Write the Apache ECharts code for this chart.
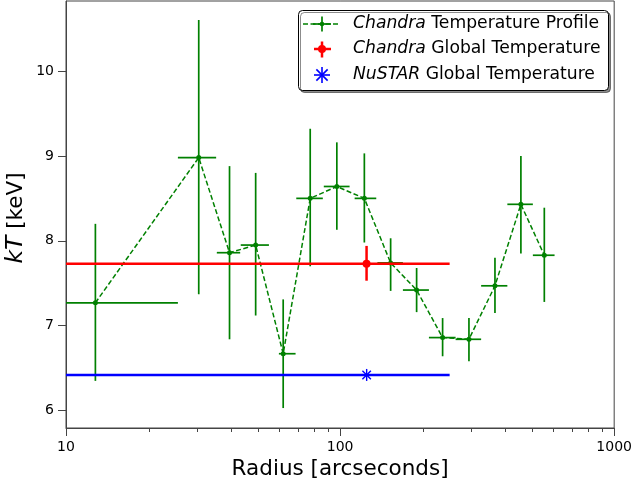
<!DOCTYPE html>
<html>
<head>
<meta charset="utf-8">
<script src="https://cdn.jsdelivr.net/npm/echarts@6/dist/echarts.min.js"></script>
<style>
  html, body { margin: 0; padding: 0; background: #fff; }
  #chart { width: 635px; height: 487px; }
</style>
</head>
<body>
<div id="chart"></div>
<script>
// ---- Data ----
const radius     = [12.8, 30.5, 39.5, 49.2, 62.0, 77.8, 97.3, 122.6, 152.9, 190.2, 236.6, 295.2, 367.3, 456.7, 556];
const radiusLow  = [10,   25.6, 35.5, 43.4, 59.8, 69.2, 87.2, 113,   136.8, 169.5, 210.9, 263.9, 327,   407.6, 505];
const radiusHigh = [25.6, 35.3, 43.2, 55.0, 68.8, 86.5, 108.3, 135.5, 169.5, 210.9, 263.9, 327,  407.6, 505,   606];
const kT         = [7.27, 8.98, 7.86, 7.95, 6.67, 8.50, 8.64, 8.50, 7.74, 7.42, 6.86, 6.84, 7.47, 8.43, 7.83];
const kTLow      = [6.35, 7.37, 6.84, 7.12, 6.03, 7.70, 8.13, 7.98, 7.41, 7.16, 6.64, 6.58, 7.15, 7.85, 7.28];
const kTHigh     = [8.20, 10.60, 8.88, 8.80, 7.31, 9.32, 9.16, 9.03, 8.03, 7.68, 7.09, 7.09, 7.80, 9.00, 8.39];

const chandraGlobal = { r: 124.9, rLow: 10, rHigh: 251, kT: 7.73, kTLow: 7.53, kTHigh: 7.94 };
const nustarGlobal  = { r: 125,   rLow: 10, rHigh: 251, kT: 6.42 };

const xMin = 10, xMax = 1000;
const yMin = 5.795, yMax = 10.825;
const yTicks = [6, 7, 8, 9, 10];
const xMinorTicks = [20, 30, 40, 50, 60, 70, 80, 90, 200, 300, 400, 500, 600, 700, 800, 900];

const GREEN = '#008000', RED = '#ff0000', BLUE = '#0000ff';
const FONT = 'DejaVu Sans';

const profileData = radius.map((r, i) => [r, radiusLow[i], radiusHigh[i], kT[i], kTLow[i], kTHigh[i]]);
const chandraData = [[chandraGlobal.r, chandraGlobal.rLow, chandraGlobal.rHigh, chandraGlobal.kT, chandraGlobal.kTLow, chandraGlobal.kTHigh]];
const nustarData  = [[nustarGlobal.r, nustarGlobal.rLow, nustarGlobal.rHigh, nustarGlobal.kT]];

function errorBars(color, width) {
  return function (params, api) {
    const x = api.value(0), xl = api.value(1), xh = api.value(2);
    const y = api.value(3), yl = api.value(4), yh = api.value(5);
    const c = api.coord([x, y]);
    const pl = api.coord([xl, y]), ph = api.coord([xh, y]);
    const pt = api.coord([x, yh]), pb = api.coord([x, yl]);
    return {
      type: 'group',
      children: [
        { type: 'line', shape: { x1: pl[0], y1: c[1], x2: ph[0], y2: c[1] }, style: { stroke: color, lineWidth: width } },
        { type: 'line', shape: { x1: c[0], y1: pt[1], x2: c[0], y2: pb[1] }, style: { stroke: color, lineWidth: width } }
      ]
    };
  };
}

function asteriskLines(cx, cy, size, color, width) {
  const h = size / 2, d = h * Math.SQRT1_2;
  return [
    { type: 'line', shape: { x1: cx, y1: cy - h, x2: cx, y2: cy + h }, style: { stroke: color, lineWidth: width } },
    { type: 'line', shape: { x1: cx - h, y1: cy, x2: cx + h, y2: cy }, style: { stroke: color, lineWidth: width } },
    { type: 'line', shape: { x1: cx - d, y1: cy - d, x2: cx + d, y2: cy + d }, style: { stroke: color, lineWidth: width } },
    { type: 'line', shape: { x1: cx - d, y1: cy + d, x2: cx + d, y2: cy - d }, style: { stroke: color, lineWidth: width } }
  ];
}

const chart = echarts.init(document.getElementById('chart'));

// Legend drawn with graphics
const LX = 322;
const legendGraphics = [
  { type: 'rect', shape: { x: 298.5, y: 10.5, width: 310, height: 80, r: 4 },
    style: { fill: '#fff', stroke: '#000', lineWidth: 1, shadowColor: 'rgba(0,0,0,0.45)', shadowOffsetX: 2, shadowOffsetY: 2, shadowBlur: 0 }, z: 100 },
  // row 1: profile
  { type: 'line', shape: { x1: 303, y1: 24, x2: 339, y2: 24 }, style: { stroke: GREEN, lineWidth: 1.5, lineDash: [5, 2.5] }, z: 101 },
  { type: 'line', shape: { x1: 313, y1: 24, x2: 331, y2: 24 }, style: { stroke: GREEN, lineWidth: 1.7 }, z: 101 },
  { type: 'line', shape: { x1: LX, y1: 16.5, x2: LX, y2: 31.5 }, style: { stroke: GREEN, lineWidth: 1.7 }, z: 101 },
  { type: 'circle', shape: { cx: LX, cy: 24, r: 2.3 }, style: { fill: GREEN }, z: 101 },
  { type: 'text', x: 353, y: 24, style: { text: '{i|Chandra} Temperature Profile', fontSize: 17.2, fontFamily: FONT, fill: '#000', verticalAlign: 'middle',
      rich: { i: { fontStyle: 'italic', fontSize: 17.2, fontFamily: FONT } } }, z: 101 },
  // row 2: chandra global
  { type: 'line', shape: { x1: 314, y1: 49, x2: 331, y2: 49 }, style: { stroke: RED, lineWidth: 2.5 }, z: 101 },
  { type: 'line', shape: { x1: LX, y1: 41.5, x2: LX, y2: 57.5 }, style: { stroke: RED, lineWidth: 2.5 }, z: 101 },
  { type: 'circle', shape: { cx: LX, cy: 49, r: 4 }, style: { fill: RED }, z: 101 },
  { type: 'text', x: 353, y: 49, style: { text: '{i|Chandra} Global Temperature', fontSize: 17.2, fontFamily: FONT, fill: '#000', verticalAlign: 'middle',
      rich: { i: { fontStyle: 'italic', fontSize: 17.2, fontFamily: FONT } } }, z: 101 },
  // row 3: nustar
  ...asteriskLines(LX, 75, 16, BLUE, 1.6).map(e => Object.assign(e, { z: 101 })),
  { type: 'text', x: 353, y: 75, style: { text: '{i|NuSTAR} Global Temperature', fontSize: 17.2, fontFamily: FONT, fill: '#000', verticalAlign: 'middle',
      rich: { i: { fontStyle: 'italic', fontSize: 17.2, fontFamily: FONT } } }, z: 101 },
  // y axis title
  { type: 'text', x: 16, y: 218, rotation: Math.PI / 2,
    style: { text: '{i|kT} [keV]', fontSize: 21.5, fontFamily: FONT, fill: '#000', align: 'center', verticalAlign: 'middle',
      rich: { i: { fontStyle: 'italic', fontSize: 23.5, fontFamily: FONT } } }, z: 101 }
];

const option = {
  animation: false,
  backgroundColor: '#fff',
  grid: { left: 66, right: 20, top: 1, bottom: 59, show: true, borderColor: '#444', borderWidth: 1, backgroundColor: 'transparent' },
  xAxis: {
    type: 'log', logBase: 10, min: xMin, max: xMax,
    name: 'Radius [arcseconds]', nameLocation: 'middle', nameGap: 28,
    nameTextStyle: { fontFamily: FONT, fontSize: 21.5, color: '#000' },
    axisLine: { show: true, lineStyle: { color: '#444', width: 1 } },
    axisTick: { show: true, inside: false, length: 8, lineStyle: { color: '#444', width: 1 } },
    axisLabel: { fontFamily: FONT, fontSize: 14, color: '#000', margin: 12, formatter: v => String(Math.round(v)) },
    splitLine: { show: false },
    minorTick: { show: false }
  },
  yAxis: {
    type: 'value', min: yMin, max: yMax,
    axisLine: { show: true, lineStyle: { color: '#444', width: 1 } },
    axisTick: { show: true, inside: false, length: 8, customValues: yTicks, lineStyle: { color: '#444', width: 1 } },
    axisLabel: { fontFamily: FONT, fontSize: 14, color: '#000', margin: 12, customValues: yTicks },
    splitLine: { show: false }
  },
  graphic: legendGraphics,
  series: [
    {
      name: 'Chandra Temperature Profile (bars)', type: 'custom', clip: true,
      renderItem: errorBars(GREEN, 1.7),
      data: profileData, encode: { x: [0, 1, 2], y: [3, 4, 5] }, z: 2
    },
    {
      name: 'Chandra Temperature Profile', type: 'line',
      data: radius.map((r, i) => [r, kT[i]]),
      lineStyle: { color: GREEN, width: 1.5, type: [5, 2.5] },
      itemStyle: { color: GREEN },
      symbol: 'circle', symbolSize: 5, showSymbol: true, z: 3
    },
    {
      name: 'Chandra Global Temperature', type: 'custom', clip: true,
      renderItem: function (params, api) {
        const g = errorBars(RED, 2.5)(params, api);
        const c = api.coord([api.value(0), api.value(3)]);
        g.children.push({ type: 'circle', shape: { cx: c[0], cy: c[1], r: 4 }, style: { fill: RED } });
        return g;
      },
      data: chandraData, encode: { x: [0, 1, 2], y: [3, 4, 5] }, z: 4
    },
    {
      name: 'NuSTAR Global Temperature', type: 'custom', clip: true,
      renderItem: function (params, api) {
        const x = api.value(0), xl = api.value(1), xh = api.value(2), y = api.value(3);
        const c = api.coord([x, y]), pl = api.coord([xl, y]), ph = api.coord([xh, y]);
        return { type: 'group', children: [
          { type: 'line', shape: { x1: pl[0], y1: c[1], x2: ph[0], y2: c[1] }, style: { stroke: BLUE, lineWidth: 2.5 } },
          ...asteriskLines(c[0], c[1], 12, BLUE, 1.4)
        ] };
      },
      data: nustarData, encode: { x: [0, 1, 2], y: 3 }, z: 4
    },
    {
      name: 'minor ticks', type: 'custom', clip: false, silent: true,
      renderItem: function (params, api) {
        const p = api.coord([api.value(0), yMin]);
        const x = Math.round(p[0]) + 0.5;
        return { type: 'line', shape: { x1: x, y1: p[1], x2: x, y2: p[1] + 4 }, style: { stroke: '#444', lineWidth: 1 } };
      },
      data: xMinorTicks.map(v => [v, yMin]), encode: { x: 0, y: 1 }, z: 1
    }
  ]
};
chart.setOption(option);
</script>
</body>
</html>
